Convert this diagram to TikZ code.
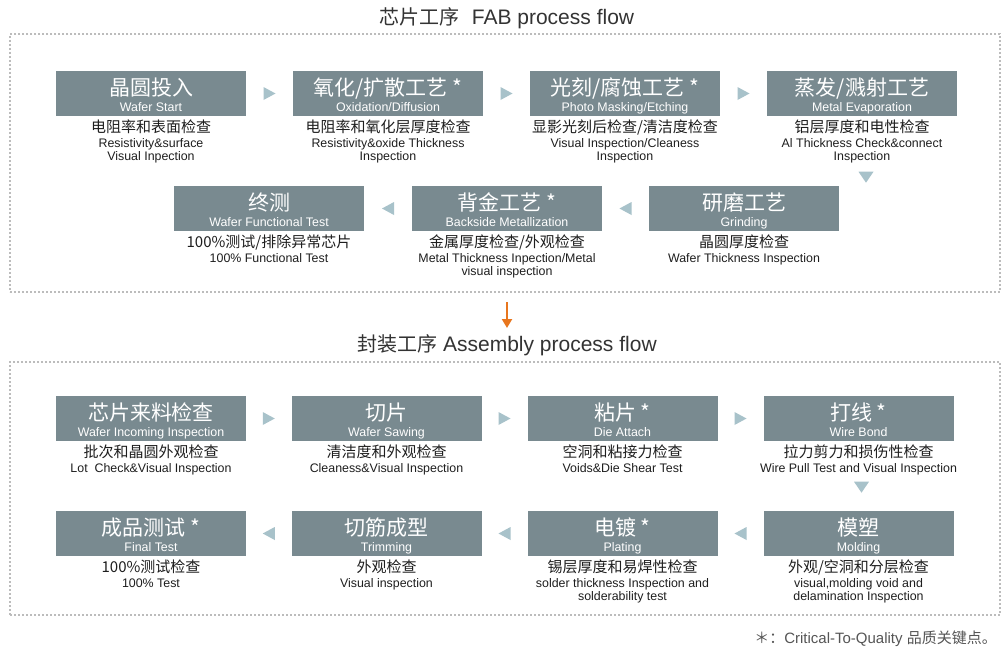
\documentclass[tikz,border=0pt]{standalone}
\usepackage{fontspec}
\setmainfont{Liberation Sans}
\newfontfamily\cjk{Noto Sans CJK SC}
\usetikzlibrary{calc,arrows.meta}
\definecolor{boxgray}{HTML}{798A90}
\definecolor{tricol}{HTML}{A8C2CA}
\definecolor{framecol}{HTML}{BCBCBC}
\definecolor{orangec}{HTML}{E8761E}
\definecolor{txtc}{HTML}{1E1E1E}
\definecolor{ttlc}{HTML}{333333}
\definecolor{notec}{HTML}{555555}
\tikzset{
  procbox/.style={rectangle, fill=boxgray, minimum width=190pt, minimum height=45pt, inner sep=0pt},
  ptitle/.style={font=\cjk\fontsize{21}{21}\selectfont, text=white, inner sep=0pt},
  psub/.style={font=\fontsize{12.4}{12.4}\selectfont, text=white, inner sep=0pt},
  cdesc/.style={font=\cjk\fontsize{15}{15}\selectfont, text=txtc, inner sep=0pt},
  edesc/.style={font=\fontsize{12.4}{13}\selectfont, text=txtc, inner sep=0pt, align=center},
  dotframe/.style={draw=framecol, line width=2pt, dash pattern=on 2pt off 2pt, inner sep=0pt},
  tric/.style={fill=tricol},
  oarrow/.style={draw=orangec, line width=2pt, -{Triangle[width=10pt,length=9pt]}},
  htitle/.style={font=\fontsize{21}{21}\selectfont, text=ttlc, inner sep=0pt}
}
% #1 name, #2 x, #3 y, #4 title, #5 subtitle, #6 chinese desc, #7 english desc
\newcommand\pbox[7]{%
  \node[procbox] (#1) at (#2,#3) {};
  \node[ptitle, anchor=base] (#1-t) at ([yshift=-1.5pt]#1.center) {#4};
  \node[psub, anchor=base] (#1-s) at ([yshift=-17.5pt]#1.center) {#5};
  \node[cdesc, anchor=base] (#1-c) at ([yshift=-16.7pt]#1.south) {#6};
  \node[edesc, anchor=north] (#1-e) at ([yshift=-20pt]#1.south) {\rule{0pt}{11pt}#7};
}
\newcommand\triR[2]{\fill[tric] ($(#1.east)!0.5!(#2.west)$) +(-6,-6.5) -- +(6,0) -- +(-6,6.5) -- cycle;}
\newcommand\triL[2]{\fill[tric] ($(#1.west)!0.5!(#2.east)$) +(6,-6.5) -- +(-6,0) -- +(6,6.5) -- cycle;}
\newcommand\triD[2]{\fill[tric] ([#2]#1.south) +(-7.5,-5.5) -- +(7.5,-5.5) -- +(0,5.5) -- cycle;}
\begin{document}
\begin{tikzpicture}[x=1pt,y=-1pt]
\useasboundingbox (0,0) rectangle (1002,646);
\fill[white] (0,0) rectangle (1002,646);

% titles and frames
\node[htitle, anchor=base] (fabttl) at (507,24) {{\cjk\fontsize{20}{20}\selectfont 芯片工序}\hspace{12pt}FAB process flow};
\node[dotframe, minimum width=990pt, minimum height=258pt] (fab) at (505,163) {};
\node[htitle, anchor=base] (asmttl) at (507,351.5) {{\cjk\fontsize{20}{20}\selectfont 封装工序} Assembly process flow};
\node[dotframe, minimum width=990pt, minimum height=253pt] (asm) at (505,488.5) {};

% FAB row 1
\pbox{f1}{151}{93.5}{晶圆投入}{Wafer Start}{电阻率和表面检查}{Resistivity\&surface\\Visual Inpection}
\pbox{f2}{388}{93.5}{氧化/扩散工艺 *}{Oxidation/Diffusion}{电阻率和氧化层厚度检查}{Resistivity\&oxide Thickness\\Inspection}
\pbox{f3}{625}{93.5}{光刻/腐蚀工艺 *}{Photo Masking/Etching}{显影光刻后检查/清洁度检查}{Visual Inspection/Cleaness\\Inspection}
\pbox{f4}{862}{93.5}{蒸发/溅射工艺}{Metal Evaporation}{铝层厚度和电性检查}{Al Thickness Check\&connect\\Inspection}
% FAB row 2
\pbox{f7}{269}{208.5}{终测}{Wafer Functional Test}{100\%测试/排除异常芯片}{100\% Functional Test}
\pbox{f6}{507}{208.5}{背金工艺 *}{Backside Metallization}{金属厚度检查/外观检查}{Metal Thickness Inpection/Metal\\visual inspection}
\pbox{f5}{744}{208.5}{研磨工艺}{Grinding}{晶圆厚度检查}{Wafer Thickness Inspection}

\triR{f1}{f2}
\triR{f2}{f3}
\triR{f3}{f4}
\triD{f4}{xshift=4pt,yshift=-61pt}
\triL{f5}{f6}
\triL{f6}{f7}

% orange arrow
\coordinate (oa1) at (507,302);
\coordinate (oa2) at (507,328);
\draw[oarrow] (oa1) -- (oa2);

% Assembly row 3
\pbox{a1}{151}{418.5}{芯片来料检查}{Wafer Incoming Inspection}{批次和晶圆外观检查}{Lot\ \ Check\&Visual Inspection}
\pbox{a2}{386.5}{418.5}{切片}{Wafer Sawing}{清洁度和外观检查}{Cleaness\&Visual Inspection}
\pbox{a3}{622.5}{418.5}{粘片 *}{Die Attach}{空洞和粘接力检查}{Voids\&Die Shear Test}
\pbox{a4}{858.5}{418.5}{打线 *}{Wire Bond}{拉力剪力和损伤性检查}{Wire Pull Test and Visual Inspection}
% Assembly row 4
\pbox{a8}{151}{533.5}{成品测试 *}{Final Test}{100\%测试检查}{100\% Test}
\pbox{a7}{386.5}{533.5}{切筋成型}{Trimming}{外观检查}{Visual inspection}
\pbox{a6}{622.5}{533.5}{电镀 *}{Plating}{锡层厚度和易焊性检查}{solder thickness Inspection and\\solderability test}
\pbox{a5}{858.5}{533.5}{模塑}{Molding}{外观/空洞和分层检查}{visual,molding void and\\delamination Inspection}

\triR{a1}{a2}
\triR{a2}{a3}
\triR{a3}{a4}
\triD{a4}{xshift=3pt,yshift=-46pt}
\triL{a5}{a6}
\triL{a6}{a7}
\triL{a7}{a8}

% footnote
\node[font=\fontsize{15}{15}\selectfont, text=notec, inner sep=0pt, anchor=base east] (note) at (997,643) {{\cjk ＊：}Critical-To-Quality {\cjk 品质关键点。}};
\end{tikzpicture}
\end{document}
